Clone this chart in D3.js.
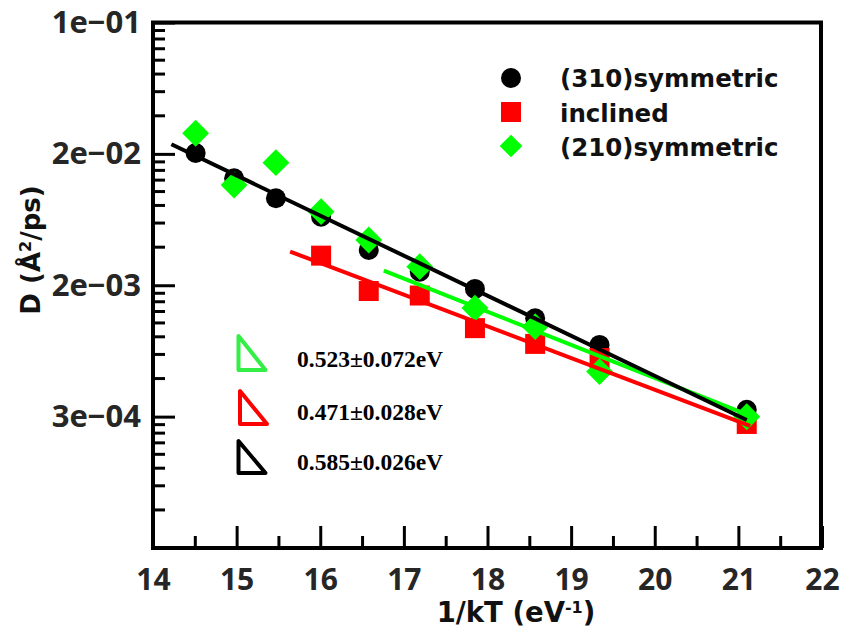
<!DOCTYPE html>
<html>
<head>
<meta charset="utf-8">
<script src="https://cdn.jsdelivr.net/npm/d3@7"></script>
<style>
  html, body { margin: 0; padding: 0; background: #fff; }
  svg { display: block; }
</style>
</head>
<body>
<svg id="chart" width="842" height="632"></svg>
<script>
// ---------------- data ----------------
const xTicks = [14, 15, 16, 17, 18, 19, 20, 21, 22];
const xMinorTicks = [14.5, 15.5, 16.5, 17.5, 18.5, 19.5, 20.5, 21.5];
const yMajorLn = [-2, -4, -6, -8, -10];               // ln(D) of major ticks
const yTickLabels = ["1e\u221201", "2e\u221202", "2e\u221203", "3e\u221204", ""];

const invkT310 = [14.51, 14.97, 15.47, 16.01, 16.58, 17.19, 17.85, 18.57, 19.34, 21.10];
const d310     = [0.01857, 0.01264, 0.00932, 0.00704, 0.00424, 0.00305, 0.002344, 0.00150, 0.000999, 0.000372];

const invkTInc = [16.01, 16.58, 17.19, 17.85, 18.57, 19.34, 21.10];
const dInc     = [0.00389, 0.00227, 0.00212, 0.00129, 0.001015, 0.000819, 0.000300];

const invkT210 = [14.51, 14.97, 15.47, 16.01, 16.58, 17.19, 17.85, 18.57, 19.34, 21.10];
const d210     = [0.02507, 0.01141, 0.01602, 0.00760, 0.00494, 0.00329, 0.00175, 0.00132, 0.000666, 0.000335];

// Arrhenius fit lines (end points)
const fitX310 = [14.22, 21.10], fitD310 = [0.02119, 0.000319];
const fitXInc = [15.64, 21.14], fitDInc = [0.004137, 0.000291];
const fitX210 = [16.76, 21.22], fitD210 = [0.003095, 0.000327];

const seriesNames  = ["(310)symmetric", "inclined", "(210)symmetric"];
const energyLabels = ["0.523\u00b10.072eV", "0.471\u00b10.028eV", "0.585\u00b10.026eV"];

// ---------------- layout / style ----------------
const BLACK = "#000000", RED = "#ff0000", GREEN = "#00ff00", TRI_GREEN = "#33ee44";
const plot = { left: 153, right: 821, top: 22.5, bottom: 548 };

const svg = d3.select("#chart");

const x = d3.scaleLinear().domain([14, 22]).range([plot.left + 0, plot.right + 1]);
const y = d3.scaleLog().base(Math.E)
  .domain([Math.exp(-10), Math.exp(-2)])
  .range([plot.bottom, plot.top]);

// ---------- axes ----------
const yMajors = yMajorLn.map(v => Math.exp(v));
const yMinors = [];
for (let i = 0; i < yMajors.length - 1; i++) {
  const a = yMajors[i], b = yMajors[i + 1];
  for (let j = 1; j <= 7; j++) yMinors.push(b + (a - b) * j / 8);
}

const axisFont = "'Open Sans', 'DejaVu Sans', sans-serif";
const titleFont = "'DejaVu Sans', sans-serif";

// y minor ticks
svg.append("g")
  .attr("transform", `translate(${plot.left},0)`)
  .call(d3.axisLeft(y).tickValues(yMinors).tickSize(-12).tickFormat(""))
  .call(g => g.select(".domain").remove())
  .call(g => g.selectAll("line").attr("stroke", "#000").attr("stroke-width", 3));

// y major ticks
svg.append("g")
  .attr("transform", `translate(${plot.left},0)`)
  .call(d3.axisLeft(y).tickValues(yMajors).tickSize(-22).tickPadding(12)
        .tickFormat((d, i) => yTickLabels[i]))
  .call(g => g.select(".domain").remove())
  .call(g => g.selectAll("line").attr("stroke", "#000").attr("stroke-width", 3))
  .call(g => g.selectAll("text")
      .attr("font-family", axisFont).attr("font-weight", "bold")
      .attr("font-size", 31).attr("fill", "#262626"));

// x minor ticks
svg.append("g")
  .attr("transform", `translate(0,${plot.bottom})`)
  .call(d3.axisBottom(x).tickValues(xMinorTicks).tickSize(-12).tickFormat(""))
  .call(g => g.select(".domain").remove())
  .call(g => g.selectAll("line").attr("stroke", "#000").attr("stroke-width", 3));

// x major ticks
svg.append("g")
  .attr("transform", `translate(0,${plot.bottom})`)
  .call(d3.axisBottom(x).tickValues(xTicks).tickSize(-22).tickPadding(21)
        .tickFormat(d3.format("d")))
  .call(g => g.select(".domain").remove())
  .call(g => g.selectAll("line").attr("stroke", "#000").attr("stroke-width", 3))
  .call(g => g.selectAll("text")
      .attr("font-family", axisFont).attr("font-weight", "bold")
      .attr("font-size", 30).attr("fill", "#262626"));

// frame
svg.append("rect")
  .attr("x", plot.left).attr("y", plot.top)
  .attr("width", plot.right - plot.left).attr("height", plot.bottom - plot.top)
  .attr("fill", "none").attr("stroke", "#000").attr("stroke-width", 4);

// axis titles
svg.append("text")
  .attr("transform", `translate(40,250) rotate(-90)`)
  .attr("text-anchor", "middle")
  .attr("font-family", titleFont).attr("font-weight", "bold")
  .attr("font-size", 26).attr("fill", "#111")
  .call(t => {
    t.append("tspan").text("D (\u00c5");
    t.append("tspan").attr("baseline-shift", "super").attr("font-size", 16).text("2");
    t.append("tspan").text("/ps)");
  });

svg.append("text")
  .attr("x", 516).attr("y", 622)
  .attr("text-anchor", "middle")
  .attr("font-family", titleFont).attr("font-weight", "bold")
  .attr("font-size", 27.5).attr("fill", "#111")
  .call(t => {
    t.append("tspan").text("1/kT (eV");
    t.append("tspan").attr("baseline-shift", "super").attr("font-size", 16).text("-1");
    t.append("tspan").text(")");
  });

// ---------- markers ----------
const zip = (xs, ds) => xs.map((v, i) => [v, ds[i]]);

const circleSym  = d3.symbol().type(d3.symbolCircle).size(Math.PI * 10 * 10);
const squareSym  = d3.symbol().type(d3.symbolSquare).size(20 * 20);
const diamondSym = d3.symbol().type(d3.symbolSquare).size(19 * 19);

const pts = svg.append("g");
pts.selectAll("path.c310").data(zip(invkT310, d310)).join("path")
  .attr("class", "c310").attr("d", circleSym)
  .attr("transform", d => `translate(${x(d[0])},${y(d[1])})`)
  .attr("fill", BLACK);

pts.selectAll("path.inc").data(zip(invkTInc, dInc)).join("path")
  .attr("class", "inc").attr("d", squareSym)
  .attr("transform", d => `translate(${x(d[0])},${y(d[1])})`)
  .attr("fill", RED);

pts.selectAll("path.c210").data(zip(invkT210, d210)).join("path")
  .attr("class", "c210").attr("d", diamondSym)
  .attr("transform", d => `translate(${x(d[0])},${y(d[1])}) rotate(45)`)
  .attr("fill", GREEN);

// ---------- fit lines ----------
const line = d3.line().x(d => x(d[0])).y(d => y(d[1]));
const fits = [
  { data: zip(fitXInc, fitDInc), color: RED },
  { data: zip(fitX210, fitD210), color: GREEN },
  { data: zip(fitX310, fitD310), color: BLACK }
];
svg.append("g").selectAll("path").data(fits).join("path")
  .attr("d", f => line(f.data))
  .attr("fill", "none").attr("stroke", f => f.color).attr("stroke-width", 4);

// ---------- legend ----------
const legend = svg.append("g");
const legendItems = [
  { name: seriesNames[0], sym: circleSym, color: BLACK, rot: 0, cy: 78, ty: 87 },
  { name: seriesNames[1], sym: squareSym, color: RED, rot: 0, cy: 112, ty: 122 },
  { name: seriesNames[2], sym: d3.symbol().type(d3.symbolSquare).size(16 * 16), color: GREEN, rot: 45, cy: 146, ty: 156 }
];
legendItems.forEach(it => {
  legend.append("path").attr("d", it.sym)
    .attr("transform", `translate(511,${it.cy}) rotate(${it.rot})`)
    .attr("fill", it.color);
  legend.append("text").attr("x", 560).attr("y", it.ty)
    .attr("font-family", titleFont).attr("font-weight", "bold")
    .attr("font-size", 24.5).attr("fill", "#111").text(it.name);
});

// ---------- activation-energy annotations ----------
const annoColors = [TRI_GREEN, RED, BLACK];
const annoTop = [336, 391, 441];
const annoBase = [370, 424, 473];
const annoTextY = [367, 420, 470];
const anno = svg.append("g");
energyLabels.forEach((lab, i) => {
  const x0 = i === 1 ? 240 : 238.5;
  anno.append("path")
    .attr("d", `M${x0},${annoTop[i]} L${x0},${annoBase[i]} L${x0 + 27},${annoBase[i]} Z`)
    .attr("fill", "none").attr("stroke", annoColors[i])
    .attr("stroke-width", 4).attr("stroke-linejoin", "round");
  anno.append("text").attr("x", 297).attr("y", annoTextY[i])
    .attr("font-family", "'Liberation Serif', 'Times New Roman', serif")
    .attr("font-weight", "bold").attr("font-size", 23.5).attr("fill", "#000")
    .text(lab);
});
</script>
</body>
</html>
